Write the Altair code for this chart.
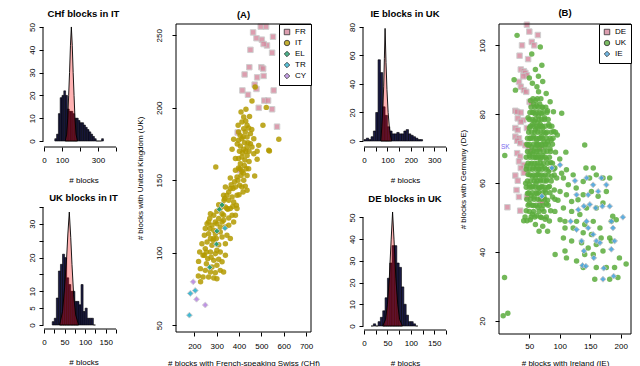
import altair as alt
import pandas as pd

FONT = "Liberation Sans"
NAVY = "#1b1b46"

# ---------------- histogram data ----------------
chf_it_start = [60, 70, 80, 90, 100, 110, 120, 130, 140, 150, 160, 170, 180, 190, 200,
                210, 220, 230, 240, 250, 260, 270, 280, 290, 300, 310, 320]
chf_it_count = [1, 3, 12, 19, 20, 22, 20, 14, 13, 13, 12, 10, 10, 9, 8, 8, 7, 6, 5, 4, 3,
                2, 1, 0, 0, 0, 1]
chf_it_null_x = [118, 126, 132, 137, 142, 147, 152, 157, 162, 167, 172, 178, 186]
chf_it_null_y = [0, 3, 10, 20, 30, 42, 50, 42, 30, 20, 10, 3, 0]

uk_it_start = [20, 25, 30, 35, 40, 45, 50, 55, 60, 65, 70, 75, 80, 85, 90, 95, 100, 105,
               110, 115, 120]
uk_it_count = [1, 2, 8, 16, 18, 21, 20, 14, 12, 10, 10, 7, 7, 6, 12, 4, 5, 2, 2, 2, 0]
uk_it_null_x = [38, 45, 50, 55, 58, 61.5, 65, 68, 72, 77, 84]
uk_it_null_y = [0, 4, 11, 20, 27, 33.5, 26, 18, 9, 3, 0]

ie_uk_start = [0, 10, 20, 30, 40, 50, 60, 70, 80, 90, 100, 110, 120, 130, 140, 150, 160,
               170, 180, 190, 200, 210, 220, 230, 240]
ie_uk_count = [1, 2, 1, 3, 7, 20, 57, 48, 24, 18, 10, 7, 5, 5, 6, 5, 5, 7, 8, 5, 4, 3, 2, 1, 1]
ie_uk_null_x = [72, 76, 80, 84, 87, 90, 94, 98, 103, 108, 113, 118]
ie_uk_null_y = [0, 10, 22, 38, 58, 79, 55, 36, 20, 10, 4, 0]

de_uk_start = [15, 20, 25, 30, 35, 40, 45, 50, 55, 60, 65, 70, 75, 80, 85, 90, 95, 100, 105, 110]
de_uk_count = [0, 1, 0, 2, 4, 7, 13, 22, 29, 37, 37, 29, 27, 18, 10, 5, 2, 2, 1, 0]
de_uk_null_x = [40, 46, 50, 54, 58, 61, 64, 68, 72, 76, 82]
de_uk_null_y = [0, 3, 10, 22, 40, 52.5, 40, 22, 10, 3, 0]

# ---------------- scatter (A) ----------------
fr_pts = [(497, 256), (521, 256), (463, 252), (478, 248), (502, 247), (552, 249), (525, 243),
          (510, 244), (548, 238), (451, 240), (446, 228), (500, 228), (508, 227), (425, 223),
          (510, 222), (481, 221), (470, 216), (478, 213), (415, 212), (440, 209), (555, 212),
          (513, 205), (530, 205), (488, 200), (548, 199), (570, 187), (394, 183), (403, 157)]
it_pts = [(409, 197.1), (421, 193.7), (430, 190.9), (436, 187.9), (413, 190.2), (443, 186.1),
          (421, 185.6), (398, 183.3), (428, 183.3), (451, 182.2), (376, 178.3), (398, 177.6),
          (413, 178.7), (436, 179.9), (466, 178.7), (488, 174.1), (451, 175.3), (406, 173.7),
          (421, 171.4), (436, 173), (458, 173), (369, 171.4), (481, 170), (536, 170.2),
          (578, 178.3), (507, 188), (466, 168.4), (398, 165), (384, 165), (413, 166.1),
          (436, 167.2), (481, 164.5), (406, 161.5), (424, 160.3), (398, 158.5), (384, 156.9),
          (413, 156.2), (443, 158), (361, 151.6), (391, 152.3), (409, 153.4), (436, 153.4),
          (470, 153), (421, 150), (403, 146.6), (384, 145.4), (373, 144.3), (413, 145.4),
          (436, 143.1), (339, 145.4), (354, 142), (331, 139.7), (336, 137.4), (354, 136.2),
          (324, 133.2), (339, 131.6), (316, 130.5), (369, 138.5), (388, 132.8), (376, 135),
          (391, 139.7), (296, 159.2), (522, 200.3), (472, 214.4), (458, 204.7), (533, 170.7),
          (418, 180), (425, 176), (440, 176), (430, 170), (415, 169), (445, 170), (402, 170),
          (392, 175), (426, 164), (445, 163), (405, 158), (419, 155), (432, 158), (395, 150),
          (380, 149), (428, 146), (418, 142), (400, 140), (365, 147), (372, 132), (350, 130),
          (396, 188), (447, 194), (431, 199), (457, 185), (405, 181),
          (346, 130.5), (324, 127), (301, 128.6), (287, 125.9), (269, 123.6), (309, 123.6),
          (331, 122.4), (354, 124), (369, 125.9), (301, 120.1), (279, 119), (257, 120.1),
          (316, 117.8), (339, 117.8), (287, 115.5), (264, 113.2), (245, 112.1), (272, 109.8),
          (298.5, 109.8), (324, 110.9), (346, 112.1), (257, 107.5), (234, 106.3), (279, 105.2),
          (309, 105.6), (339, 106.3), (249, 102.9), (272, 100.6), (294, 99.4), (316, 100.6),
          (239, 98.3), (260, 96), (287, 94.8), (309, 95.5), (219, 94.1), (254, 92.5),
          (279, 90.2), (301, 91.4), (227, 89.1), (249, 87.9), (272, 86.8), (294, 86.3),
          (316, 87.9), (239, 83.3), (264, 83.3), (287, 82.6), (301, 82.2), (376, 121.3),
          (384, 125.9), (361, 130.5), (391, 130.5), (354, 119), (361, 109.8), (339, 98.3),
          (324, 93.8), (331, 86.8), (269, 116.7), (294, 113.2), (254, 100.6), (275, 97),
          (224, 100.6), (301, 101.7), (284, 108.6), (249, 116.7), (316, 114.4), (331, 125.9),
          (309, 133.2), (333, 136.2), (346, 139.7), (361, 144.3), (324, 121.3), (294, 121.3),
          (272, 127), (264, 121.3), (287, 109.8), (245, 98.3), (218, 84), (228, 80)]
el_pts = [(324, 133), (312, 130), (301, 115), (299, 106), (269, 90)]
tr_pts = [(337, 117), (204, 74), (182, 72), (178, 57)]
cy_pts = [(195, 80), (210, 68), (249, 64)]

# ---------------- scatter (B) ----------------
de_pts = [(46, 106), (50, 104), (64, 103), (38, 100), (54, 101), (58, 100), (34, 97), (48, 96),
          (36, 93), (41, 92.5), (43.5, 92), (46, 91.3), (40, 91), (33, 89.4), (36, 88), (41, 87),
          (45, 86.5), (50.5, 83.6), (53, 83), (27, 81), (30, 80.7), (36, 80.5), (31, 78.8),
          (40, 78.3), (36, 77.8), (27, 76), (31, 75.4), (46, 76), (27, 73.5), (33, 73),
          (30, 72.3), (35, 71.6), (43.5, 71), (49, 70.3), (50.5, 69.2), (30, 68.7), (35, 67.7),
          (33, 66.3), (41, 65.3), (36, 64.4), (45, 64), (27, 62.2), (41, 63), (31, 60.7),
          (29, 58), (33, 56), (46, 56), (68, 54.7), (35, 52), (14, 53), (68, 70), (71, 54.4)]
uk_pts = [(29.9, 102.9), (68, 99.5), (54, 97.5), (70.6, 94.2), (65, 91), (27.2, 87), (25, 90),
          (62.5, 88), (65.2, 86.5), (77.7, 86), (84.2, 83.6), (89.6, 80.7), (103.2, 80.3),
          (60, 93), (50, 90.5), (72, 89.5), (55, 89), (60.5, 84),
          (9.3, 32.6), (7.1, 21.5), (14.7, 22.2), (9.7, 68),
          (52, 84), (57, 83), (62, 82.5), (67, 83), (72, 82), (55, 80.5), (60, 80), (65, 79.5),
          (70, 80.2), (75, 79), (80, 81), (48, 79), (58, 78), (63, 77.5),
          (50, 76), (55, 77), (60, 75.5), (64, 76), (68, 77), (72, 76), (77, 74.5), (82, 77),
          (90, 75), (96, 74), (52, 73), (57, 73.5), (62, 72.5), (66, 73), (70, 73.5), (74, 72),
          (80, 72), (86, 72.5), (48, 71), (54, 70.5), (59, 70), (63, 71), (67, 70), (71, 71),
          (76, 70.5), (84, 70), (110, 69), (93, 69),
          (50, 68), (55, 68.5), (60, 67.5), (64, 68), (68, 67), (72, 68), (78, 67), (85, 66),
          (100, 67), (46, 65), (52, 65.5), (57, 64.5), (62, 65), (66, 64), (70, 65), (75, 64.5),
          (82, 63.5), (90, 64), (48, 62.5), (55, 62), (60, 61.5), (64, 62.5), (68, 61), (73, 62),
          (79, 61), (87, 62), (95, 61.5),
          (44, 60), (50, 59.5), (56, 59), (61, 60), (66, 58.5), (71, 59), (76, 58), (83, 59),
          (91, 58), (47, 57), (53, 56.5), (58, 56), (63, 57), (68, 55.5), (74, 56), (80, 55),
          (88, 56), (97, 55), (50, 54), (57, 53.5), (64, 53), (71, 52.5), (78, 54), (85, 52),
          (45, 52), (55, 51), (62, 50.5), (70, 50), (76, 49.5), (83, 49), (60, 48), (72, 47.5),
          (66, 46), (80, 46), (40.8, 49.1), (46.2, 49.1), (51.6, 49.4),
          (56, 84.5), (63, 84.5), (69, 84.5), (53, 82), (59, 82), (65, 82), (71, 82), (77, 82),
          (51, 80.5), (57, 80.5), (62, 80.5), (67, 80.5), (73, 80.5), (79, 80.5),
          (50, 78.5), (55, 78.5), (60, 78.5), (66, 78.5), (70, 78.5), (75, 78.5), (81, 78.5),
          (52, 76.5), (57, 76.5), (62, 76.5), (67, 76.5), (71, 76.5), (76, 76.5), (83, 76.5),
          (87, 76.5), (49, 74.8), (54, 74.8), (59, 74.8), (64, 74.8), (69, 74.8), (74, 74.8),
          (79, 74.8), (86, 74.8), (93, 74.8), (47, 73), (51, 73), (56, 73), (61, 73), (68, 73),
          (72, 73), (78, 73), (84, 73), (89, 73), (46, 71.3), (50, 71.3), (57, 71.3), (62, 71.3),
          (65, 71.3), (70, 71.3), (77, 71.3), (81, 71.3), (88, 71.3), (47, 69.2), (52, 69.2),
          (58, 69.2), (62, 69.2), (67, 69.2), (74, 69.2), (79, 69.2), (85, 69.2),
          (45, 67.5), (51, 67.5), (56, 67.5), (61, 67.5), (65, 67.5), (70, 67.5), (76, 67.5),
          (83, 67.5), (48, 65.8), (54, 65.8), (59, 65.8), (63, 65.8), (68, 65.8), (73, 65.8),
          (80, 65.8), (88, 65.8), (45, 64), (50, 64), (55, 64), (61, 64), (65, 64), (71, 64),
          (77, 64), (83, 64), (51, 62.4), (57, 62.4), (62, 62.4), (66, 62.4), (70, 62.4),
          (76, 62.4), (81, 62.4), (91, 62.4), (47, 60.6), (52, 60.6), (58, 60.6), (63, 60.6),
          (68, 60.6), (74, 60.6), (78, 60.6), (86, 60.6), (45, 58.8), (50, 58.8), (54, 58.8),
          (60, 58.8), (65, 58.8), (69, 58.8), (75, 58.8), (81, 58.8), (49, 57.2), (55, 57.2),
          (61, 57.2), (66, 57.2), (72, 57.2), (77, 57.2), (84, 57.2), (46, 55.3), (52, 55.3),
          (58, 55.3), (64, 55.3), (70, 55.3), (75, 55.3), (92, 55.3), (48, 53.6), (54, 53.6),
          (61, 53.6), (67, 53.6), (73, 53.6), (81, 53.6), (50, 51.8), (57, 51.8), (66, 51.8),
          (74, 51.8), (43, 50.2), (53, 50.2), (59, 50.2), (68, 50.2), (78, 50.2),
          (141, 71.1), (143, 64.4), (155, 64.4), (111, 63.9), (122, 62.4), (103, 62.9),
          (92, 64.4), (106, 61.5), (114, 59.5), (127, 58.6), (138.5, 60.5), (149, 61.5),
          (160, 62.4), (171, 61.5), (182, 61.5), (100.5, 57.6), (111, 56.6), (119.5, 54.7),
          (130, 55.2), (138.5, 56.6), (152, 57.6), (163, 56.2), (176.5, 57.6), (106, 52.8),
          (119.5, 51.8), (133, 50.9), (144, 52.8), (160, 52.8), (171, 54.2), (187, 50.4),
          (92, 51.8), (100.5, 49.4), (108.6, 48.9), (127.6, 48.9), (141, 48), (155, 48.9),
          (166, 47), (184.7, 48.9), (192.8, 49.4), (108.6, 47), (122, 47), (138.5, 45.6),
          (152, 45.1), (168, 44.1), (182, 44.1), (106, 44.1), (119.5, 43.2), (135.8, 42.7),
          (146.7, 41.2), (160, 42.2), (171, 40.3), (184.7, 43.2), (141, 39.3), (155, 39.3),
          (127.6, 37.4), (138.5, 35.5), (160, 35.5), (176.5, 35.5), (190, 35.5), (198, 38.3),
          (209, 36.5), (157.5, 32.1), (182, 32.1), (195.5, 32.6), (92.4, 39.3), (108.6, 40.3),
          (111, 38.3)]
ie_pts = [(87, 64.4), (100.5, 65.3), (125, 60.7), (144, 61.5), (154.8, 59.5), (168.4, 61.5),
          (176.5, 59.5), (163, 57.6), (146.7, 56.6), (127.6, 56.6), (130.4, 52.3), (139.6, 53.3),
          (149.4, 53.8), (159, 52.8), (170, 53.3), (182, 53.3), (117.9, 48.9), (127.6, 46.5),
          (144, 48.9), (146.7, 47), (154.8, 45.1), (160.2, 43.2), (166, 42.7), (184.7, 48.9),
          (187.4, 47), (190.1, 43.2), (184.7, 40.8), (203.7, 50.1), (135.8, 43.2),
          (139.6, 40.3), (137.4, 36.1), (142.9, 35.9), (155.9, 38.3), (172.2, 35.3),
          (171, 32.1), (188.5, 33), (70.6, 56.2)]
sk_label = ("SK", 10.6, 70.6)

ONE = pd.DataFrame({"a": [0]})
NOVIEW = alt.ViewBackground(stroke="transparent", strokeWidth=0, fill="transparent")


def axis_common(**kw):
    base = dict(domain=False, grid=False, tickSize=4, tickColor="black", tickWidth=1,
                labelColor="black", labelFont=FONT, labelFontSize=8, labelFlush=False,
                labelOverlap=False, labelBound=False, titleFont=FONT, titleFontSize=8,
                titleFontWeight="normal", titleColor="black")
    base.update(kw)
    return alt.Axis(**base)


def hist(title, starts, binw, counts, nx, ny, xdom, xaxis_end, xticks, xlabexpr,
         ydom, yaxis_top, yticks, ylabexpr, w, h, xoff):
    bars = pd.DataFrame({"s": starts, "e": [s + binw for s in starts], "c": counts})
    dens = pd.DataFrame({"x": nx, "y": ny})
    xs = alt.Scale(domain=[0, xdom], nice=False, zero=False)
    ys = alt.Scale(domain=[0, ydom], nice=False, zero=False)
    xa = axis_common(values=xticks, labelExpr=xlabexpr, offset=xoff, labelPadding=5,
                     title="# blocks", titlePadding=12)
    ya = axis_common(values=yticks, labelExpr=ylabexpr, offset=1, labelAngle=270,
                     labelAlign="center", labelBaseline="bottom", labelPadding=3, title=None)
    b = alt.Chart(bars).mark_rect(fill=NAVY, stroke="black", strokeWidth=0.6).encode(
        x=alt.X("s:Q", scale=xs, axis=xa), x2="e:Q",
        y=alt.Y("c:Q", scale=ys, axis=ya), y2=alt.Y2(datum=0))
    a = alt.Chart(dens).mark_area(fill="#ff0000", fillOpacity=0.3, stroke="black",
                                  strokeWidth=0.9).encode(
        x=alt.X("x:Q", scale=xs, axis=xa), y=alt.Y("y:Q", scale=ys, axis=ya))
    rx = alt.Chart(ONE).mark_rule(color="black", strokeWidth=1).encode(
        x=alt.X(datum=0, scale=xs, axis=xa), x2=alt.X2(datum=xaxis_end),
        y=alt.value(h + xoff))
    ry = alt.Chart(ONE).mark_rule(color="black", strokeWidth=1).encode(
        x=alt.value(-1), y=alt.Y(datum=0, scale=ys, axis=ya), y2=alt.Y2(datum=yaxis_top))
    return alt.layer(b, a, rx, ry).properties(
        width=w, height=h, view=NOVIEW,
        title=alt.TitleParams(title, font=FONT, fontSize=9.5, fontWeight="bold",
                              color="black", offset=4, anchor="middle", frame="group"))


def scatter(title, groups, pts_list, colors, shapes, strokes, sizes, opac, xdom, ydom,
            xticks, yticks, xtitle, ytitle, w, hv, hreal, xlabpad, label=None):
    rows = []
    for g, pts in zip(groups, pts_list):
        for (x, y) in pts:
            rows.append({"grp": g, "x": x, "y": y})
    df = pd.DataFrame(rows)
    xs = alt.Scale(domain=xdom, nice=False, zero=False)
    ys = alt.Scale(domain=ydom, nice=False, zero=False, range=[hreal, 0])
    xa = axis_common(values=xticks, labelPadding=xlabpad, title=xtitle, titlePadding=9,
                     offset=hreal - hv)
    ya = axis_common(values=yticks, labelAngle=270, labelAlign="center",
                     labelBaseline="bottom", labelPadding=9, title=ytitle, titlePadding=11)
    leg = alt.Legend(orient="top-right", offset=0, title=None, strokeColor="black",
                     fillColor="white", padding=4, labelFont=FONT, labelFontSize=8,
                     labelColor="black", symbolSize=30, symbolStrokeColor="black",
                     symbolStrokeWidth=0.8, rowPadding=1, labelOffset=4, cornerRadius=0)
    cs = alt.Scale(domain=groups, range=colors)
    ss = alt.Scale(domain=groups, range=shapes)
    frame = alt.Chart(ONE).mark_rect(filled=False, stroke="black", strokeWidth=1).encode(
        x=alt.value(0), x2=alt.value(w), y=alt.value(0), y2=alt.value(hreal))
    layers = []
    for g, st, sz, op in zip(groups, strokes, sizes, opac):
        mk = dict(filled=True, size=sz, opacity=op)
        if st is not None:
            mk.update(stroke=st, strokeWidth=1)
        else:
            mk.update(strokeWidth=0)
        layers.append(
            alt.Chart(df).transform_filter(alt.FieldEqualPredicate(field="grp", equal=g))
            .mark_point(**mk).encode(
                x=alt.X("x:Q", scale=xs, axis=xa),
                y=alt.Y("y:Q", scale=ys, axis=ya),
                color=alt.Color("grp:N", scale=cs, legend=leg),
                shape=alt.Shape("grp:N", scale=ss, legend=leg)))
    if label is not None:
        layers.append(
            alt.Chart(ONE).mark_text(text=label[0], font=FONT, fontSize=6.5,
                                     color="#7b68ee").encode(
                x=alt.X(datum=label[1], scale=xs, axis=xa),
                y=alt.Y(datum=label[2], scale=ys, axis=ya)))
    layers.append(frame)
    return alt.layer(*layers).properties(
        width=w, height=hv, view=NOVIEW,
        title=alt.TitleParams(title, font=FONT, fontSize=9.5, fontWeight="bold",
                              color="black", offset=2, anchor="middle", frame="group"))


h1 = hist("CHf blocks in IT", chf_it_start, 10, chf_it_count, chf_it_null_x, chf_it_null_y,
          438.9, 400, [0, 100, 200, 300, 400],
          "datum.value == 200 || datum.value == 400 ? '' : datum.label",
          51.3, 50, [0, 10, 20, 30, 40, 50], "datum.label", 79, 117, 6)
h2 = hist("UK blocks in IT", uk_it_start, 5, uk_it_count, uk_it_null_x, uk_it_null_y,
          192, 175, [0, 25, 50, 75, 100, 125, 150, 175],
          "datum.value % 50 == 0 ? datum.label : ''",
          35, 35, [0, 5, 10, 15, 20, 25, 30, 35],
          "datum.value == 15 || datum.value == 25 || datum.value == 35 ? '' : datum.label",
          79, 118, 4)
h3 = hist("IE blocks in UK", ie_uk_start, 10, ie_uk_count, ie_uk_null_x, ie_uk_null_y,
          350, 350, [0, 50, 100, 150, 200, 250, 300, 350],
          "datum.value % 100 == 0 && datum.value < 350 ? datum.label : ''",
          82.1, 80, [0, 20, 40, 60, 80], "datum.label", 82, 117, 6)
h4 = hist("DE blocks in UK", de_uk_start, 5, de_uk_count, de_uk_null_x, de_uk_null_y,
          175, 175, [0, 25, 50, 75, 100, 125, 150, 175],
          "datum.value % 50 == 0 && datum.value < 175 ? datum.label : ''",
          54.8, 50, [0, 10, 20, 30, 40, 50], "datum.label", 82, 119, 4)

sA = scatter("(A)", ["FR", "IT", "EL", "TR", "CY"],
             [fr_pts, it_pts, el_pts, tr_pts, cy_pts],
             ["#d4879c", "#b39a00", "#1f9e6e", "#2fb3cf", "#b98ae0"],
             ["square", "circle", "diamond", "diamond", "diamond"],
             ["#c4c4c4", None, "#c4c4c4", "#c4c4c4", "#d0d0d0"],
             [30, 30, 34, 34, 34], [0.8, 0.85, 0.9, 0.9, 0.9],
             [118, 722], [45.4, 257.8], [200, 300, 400, 500, 600, 700],
             [50, 100, 150, 200, 250],
             "# blocks with French-speaking Swiss (CHf)", "# blocks with United Kingdom (UK)",
             135, 117, 308, 6)

sB = scatter("(B)", ["DE", "UK", "IE"], [de_pts, uk_pts, ie_pts],
             ["#d4879c", "#5aab3c", "#4ea6dc"],
             ["square", "circle", "diamond"],
             ["#c4c4c4", None, "#c4c4c4"],
             [30, 30, 34], [0.8, 0.85, 0.9],
             [0.2, 217], [16.2, 106.2], [50, 100, 150, 200], [20, 40, 60, 80, 100],
             "# blocks with Ireland (IE)", "# blocks with Germany (DE)", 132, 117, 310, 4,
             label=sk_label)


def blank(w):
    return alt.Chart(ONE).mark_text(text="").encode(
        x=alt.value(0), y=alt.value(0)).properties(width=w, height=1, view=NOVIEW)


chart = alt.concat(h1, sA, h3, sB, h2, blank(135), h4, blank(132), columns=4,
                   spacing={"row": 66, "column": 53}, bounds="flush").resolve_scale(
    color="independent", shape="independent"
).resolve_legend(color="independent", shape="independent").properties(
    padding={"left": 20, "top": 0, "right": 0, "bottom": 2}
).configure_view(stroke="transparent", strokeWidth=0).configure(background="white")

chart.save("out.html", embed_options={"renderer": "svg", "actions": False})
